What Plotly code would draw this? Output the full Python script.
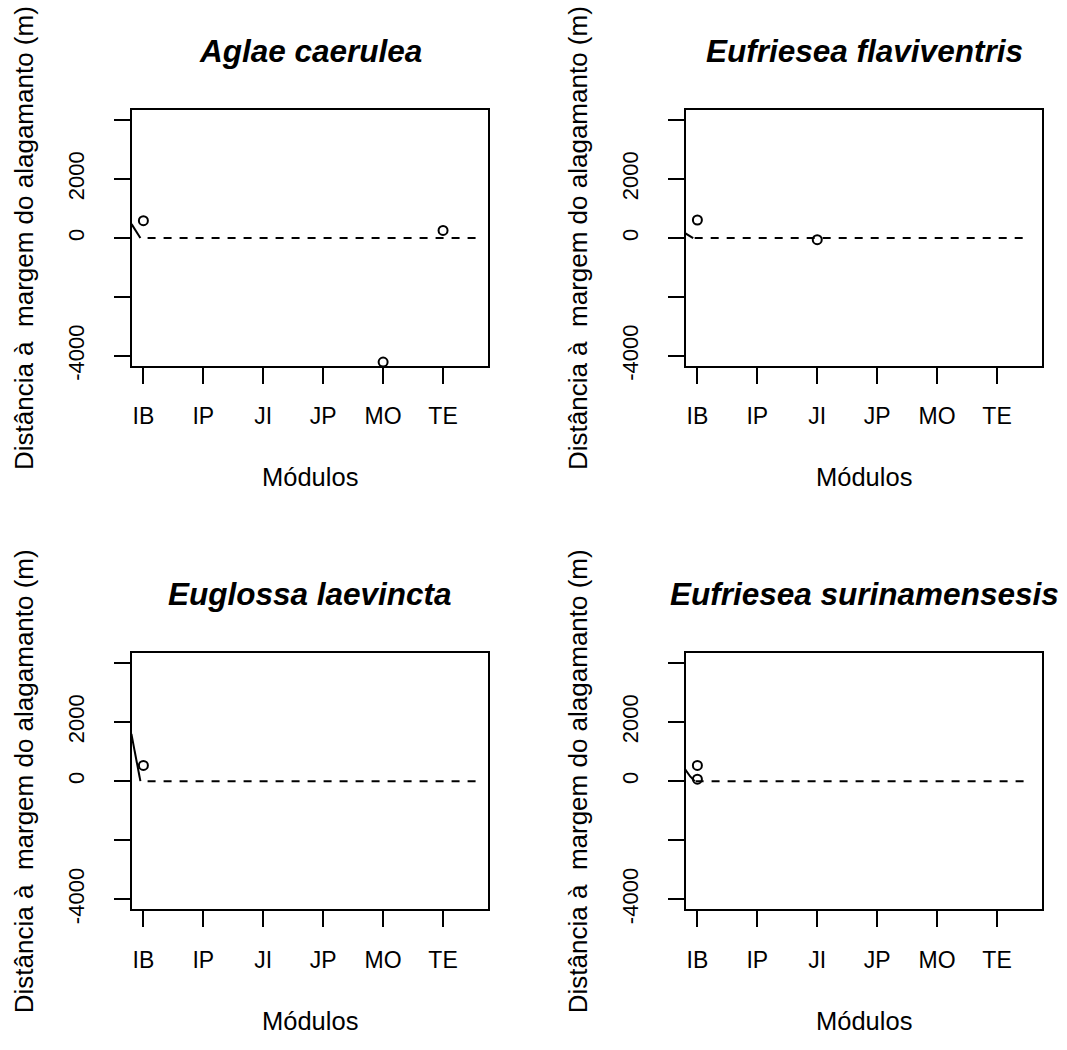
import plotly.graph_objects as go

# ---------------- data ----------------
modulos = ["IB", "IP", "JI", "JP", "MO", "TE"]
modulo_pos = [1, 2, 3, 4, 5, 6]
species = ["Aglae caerulea", "Eufriesea flaviventris",
           "Euglossa laevincta", "Eufriesea surinamensesis"]

# observed points: module position and distance to flood margin (m)
pts_x = [[1, 6, 5], [1, 3], [1], [1, 1]]
pts_y = [[590, 257, -4210], [613, -55], [533], [533, 67]]

# solid fitted line near IB (partly off the plot on the left)
fit_x = [[0.80, 0.95], [0.79, 0.93], [0.80, 0.95], [0.79, 0.88, 0.955]]
fit_y = [[480, 0], [170, 0], [1600, 0], [420, 160, 0]]

# dashed reference line at zero
ref_x = [[1.07, 6.57], [0.955, 6.55], [1.07, 6.56], [0.97, 6.55]]
ref_y = [[0, 0], [0, 0], [0, 0], [0, 0]]

y_ticks = [-4000, -2000, 0, 2000, 4000]
y_tick_text = ["-4000", "", "0", "2000", ""]

x_title = "Módulos"
y_title = "Distância à\u00a0 margem do alagamanto (m)"

# ---------------- layout geometry ----------------
W, H = 1067, 1050
FONT = "Liberation Sans, Arial, Helvetica, sans-serif"
boxes = [  # left, right, top, bottom in pixels
    (132, 488, 112, 371),
    (686, 1042, 112, 371),
    (132, 488, 662.7, 922.3),
    (686, 1042, 662.7, 922.3),
]

fig = go.Figure()
annotations = []
for i in range(4):
    xa = "x" if i == 0 else f"x{i+1}"
    ya = "y" if i == 0 else f"y{i+1}"
    # dashed zero line
    fig.add_trace(go.Scatter(x=ref_x[i], y=ref_y[i], mode="lines", xaxis=xa, yaxis=ya,
                             line=dict(color="black", width=2, dash="8px,8px"),
                             showlegend=False, hoverinfo="skip"))
    # solid fitted line
    fig.add_trace(go.Scatter(x=fit_x[i], y=fit_y[i], mode="lines", xaxis=xa, yaxis=ya,
                             line=dict(color="black", width=2),
                             showlegend=False, hoverinfo="skip"))
    # points
    fig.add_trace(go.Scatter(x=pts_x[i], y=pts_y[i], mode="markers", xaxis=xa, yaxis=ya,
                             marker=dict(symbol="circle-open", size=9, color="black",
                                         line=dict(width=2, color="black")),
                             cliponaxis=False, showlegend=False))

    l, r, t, b = boxes[i]
    xkey = "xaxis" if i == 0 else f"xaxis{i+1}"
    ykey = "yaxis" if i == 0 else f"yaxis{i+1}"
    fig.layout[xkey] = dict(
        domain=[l / W, r / W], range=[0.81, 6.75], anchor=ya,
        tickmode="array", tickvals=modulo_pos, ticktext=modulos,
        ticks="outside", ticklen=16, tickwidth=2, tickcolor="black",
        showline=True, linewidth=2, linecolor="black", mirror=True,
        showgrid=False, zeroline=False, ticklabelstandoff=13,
        tickfont=dict(family=FONT, size=23, color="black"), fixedrange=True)
    fig.layout[ykey] = dict(
        domain=[1 - b / H, 1 - t / H], range=[-4333, 4333], anchor=xa,
        tickmode="array", tickvals=y_ticks, ticktext=y_tick_text, tickangle=-90,
        ticks="outside", ticklen=16, tickwidth=2, tickcolor="black",
        showline=True, linewidth=2, linecolor="black", mirror=True,
        showgrid=False, zeroline=False, ticklabelstandoff=21,
        tickfont=dict(family=FONT, size=22, color="black"), fixedrange=True)

    cx = (l + r) / 2
    cy = (t + b) / 2
    annotations.append(dict(text=f"<b><i>{species[i]}</i></b>", x=cx / W, y=1 - (t - 60) / H,
                            xref="paper", yref="paper", showarrow=False,
                            xanchor="center", yanchor="middle",
                            font=dict(family=FONT, size=31.5, color="black")))
    annotations.append(dict(text=x_title, x=cx / W, y=1 - (b + 113) / H,
                            xref="paper", yref="paper", showarrow=False,
                            xanchor="center", yanchor="middle",
                            font=dict(family=FONT, size=25.5, color="black")))
    annotations.append(dict(text=y_title, x=(l - 108) / W, y=1 - cy / H,
                            xref="paper", yref="paper", showarrow=False, textangle=-90,
                            xanchor="center", yanchor="middle",
                            font=dict(family=FONT, size=26, color="black")))

fig.update_layout(width=W, height=H, margin=dict(l=0, r=0, t=0, b=0),
                  paper_bgcolor="white", plot_bgcolor="white",
                  annotations=annotations, showlegend=False,
                  font=dict(family=FONT, color="black"))

fit_script = (
    "document.documentElement.style.margin='0px';"
    "document.documentElement.style.overflow='hidden';"
    "document.body.style.margin='0px';"
    "document.body.style.padding='0px';"
    "document.body.style.overflow='hidden';"
    "var gd=document.getElementById('{plot_id}');"
    "var vw=window.innerWidth, vh=window.innerHeight;"
    "if(vw>500 && vh>500 && (vw!==%d || vh!==%d)){"
    "gd.style.width=vw+'px';gd.style.height=vh+'px';"
    "Plotly.relayout(gd,{width:vw,height:vh});}"
    "window.scrollTo(0,0);" % (W, H)
)

fig.write_html("out.html", config={"displayModeBar": False}, post_script=fit_script)
